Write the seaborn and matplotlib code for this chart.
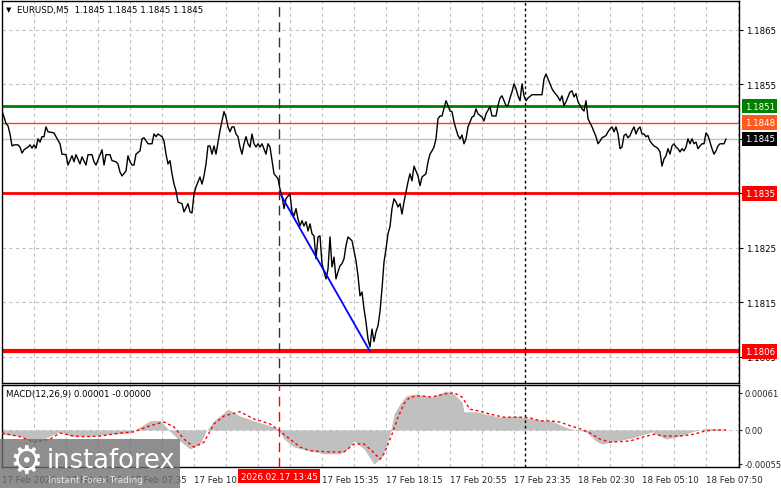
import matplotlib
matplotlib.use("Agg")
import matplotlib.pyplot as plt
import matplotlib.transforms as mtransforms
from matplotlib.patches import Rectangle
import numpy as np
import pandas as pd
import seaborn as sns

# ---------------- data ----------------
price_bars = [0, 1, 2, 3, 4, 5, 6, 8, 9, 10, 11, 13, 14, 15, 16, 17, 18, 19, 20, 21, 22, 23, 26, 27, 29, 30,
              32, 33, 35, 36, 37, 39, 40, 42, 43, 45, 46, 47, 50, 51, 52, 54, 55, 57, 58, 59, 60, 62, 63, 64,
              65, 66, 67, 69, 70, 71, 73, 75, 76, 77, 78, 80, 81, 82, 83, 84, 85, 86, 87, 88, 90, 91, 93, 94,
              95, 96, 97, 98, 99, 100, 101, 102, 103, 104, 105, 106, 107, 108, 109, 110, 111, 112, 113, 114,
              115, 116, 117, 118, 119, 120, 121, 122, 123, 124, 125, 126, 127, 128, 129, 130, 132, 133, 134,
              135, 136, 138, 139, 140, 141, 142, 143, 144, 145, 146, 147, 148, 149, 150, 151, 152, 153, 154,
              155, 156, 157, 158, 159, 160, 161, 162, 163, 164, 165, 166, 167, 168, 169, 170, 171, 172, 173,
              175, 176, 177, 178, 179, 180, 181, 182, 183, 184, 185, 186, 187, 188, 189, 190, 191, 192, 193,
              194, 195, 196, 197, 198, 199, 200, 201, 202, 203, 204, 205, 206, 207, 208, 209, 210, 212, 213,
              214, 215, 216, 217, 218, 219, 220, 222, 223, 224, 225, 226, 227, 228, 229, 230, 231, 232, 233,
              235, 236, 237, 238, 240, 241, 242, 244, 245, 247, 248, 249, 250, 251, 252, 253, 254, 255, 256,
              257, 258, 259, 260, 261, 262, 263, 265, 270, 271, 272, 273, 275, 276, 278, 279, 280, 281, 282,
              284, 285, 286, 287, 288, 290, 291, 292, 293, 295, 296, 297, 298, 299, 300, 302, 303, 304, 305,
              306, 307, 308, 309, 310, 311, 312, 313, 314, 315, 316, 317, 318, 319, 320, 321, 322, 323, 324,
              325, 326, 327, 328, 329, 330, 331, 332, 333, 334, 335, 336, 337, 338, 339, 340, 341, 342, 343,
              344, 345, 346, 347, 348, 349, 350, 351, 352, 353, 354, 355, 356, 357, 358, 359, 361, 362]
price_close = [1.18501, 1.18490, 1.18478, 1.18474, 1.18459, 1.18437, 1.18439, 1.18439, 1.18435, 1.18424,
               1.18430, 1.18435, 1.18439, 1.18433, 1.18439, 1.18433, 1.18450, 1.18444, 1.18454, 1.18454,
               1.18472, 1.18463, 1.18461, 1.18454, 1.18441, 1.18422, 1.18421, 1.18402, 1.18419, 1.18408,
               1.18421, 1.18404, 1.18417, 1.18402, 1.18421, 1.18421, 1.18408, 1.18402, 1.18430, 1.18402,
               1.18421, 1.18421, 1.18410, 1.18408, 1.18404, 1.18389, 1.18382, 1.18391, 1.18419, 1.18408,
               1.18402, 1.18402, 1.18422, 1.18428, 1.18450, 1.18452, 1.18441, 1.18441, 1.18459, 1.18454,
               1.18459, 1.18454, 1.18446, 1.18422, 1.18404, 1.18410, 1.18386, 1.18367, 1.18355, 1.18334,
               1.18331, 1.18316, 1.18331, 1.18316, 1.18314, 1.18349, 1.18362, 1.18371, 1.18380, 1.18367,
               1.18382, 1.18404, 1.18437, 1.18437, 1.18422, 1.18437, 1.18422, 1.18444, 1.18465, 1.18483,
               1.18500, 1.18490, 1.18472, 1.18463, 1.18472, 1.18472, 1.18459, 1.18454, 1.18435, 1.18422,
               1.18441, 1.18454, 1.18441, 1.18435, 1.18459, 1.18441, 1.18435, 1.18441, 1.18435, 1.18441,
               1.18422, 1.18441, 1.18435, 1.18410, 1.18386, 1.18377, 1.18358, 1.18345, 1.18322, 1.18340,
               1.18345, 1.18349, 1.18316, 1.18309, 1.18322, 1.18303, 1.18290, 1.18300, 1.18290, 1.18298,
               1.18281, 1.18294, 1.18276, 1.18272, 1.18230, 1.18270, 1.18272, 1.18221, 1.18206, 1.18193,
               1.18211, 1.18270, 1.18215, 1.18233, 1.18193, 1.18206, 1.18217, 1.18221, 1.18230, 1.18254,
               1.18270, 1.18263, 1.18244, 1.18226, 1.18199, 1.18162, 1.18169, 1.18138, 1.18114, 1.18083,
               1.18068, 1.18101, 1.18078, 1.18096, 1.18107, 1.18133, 1.18175, 1.18224, 1.18248, 1.18276,
               1.18289, 1.18322, 1.18340, 1.18334, 1.18325, 1.18331, 1.18312, 1.18334, 1.18353, 1.18371,
               1.18386, 1.18373, 1.18400, 1.18391, 1.18382, 1.18364, 1.18380, 1.18386, 1.18408, 1.18422,
               1.18428, 1.18435, 1.18450, 1.18487, 1.18492, 1.18492, 1.18520, 1.18511, 1.18501, 1.18500,
               1.18481, 1.18468, 1.18456, 1.18450, 1.18457, 1.18441, 1.18450, 1.18472, 1.18490, 1.18492,
               1.18505, 1.18496, 1.18490, 1.18483, 1.18496, 1.18509, 1.18492, 1.18492, 1.18511, 1.18525,
               1.18529, 1.18520, 1.18511, 1.18511, 1.18525, 1.18536, 1.18551, 1.18542, 1.18529, 1.18520,
               1.18551, 1.18529, 1.18520, 1.18525, 1.18531, 1.18531, 1.18560, 1.18569, 1.18560, 1.18542,
               1.18536, 1.18527, 1.18520, 1.18529, 1.18511, 1.18518, 1.18536, 1.18538, 1.18527, 1.18533,
               1.18518, 1.18505, 1.18501, 1.18520, 1.18487, 1.18472, 1.18463, 1.18454, 1.18441, 1.18446,
               1.18452, 1.18456, 1.18463, 1.18468, 1.18472, 1.18463, 1.18472, 1.18459, 1.18432, 1.18435,
               1.18456, 1.18459, 1.18452, 1.18456, 1.18465, 1.18472, 1.18459, 1.18468, 1.18472, 1.18459,
               1.18459, 1.18454, 1.18456, 1.18446, 1.18441, 1.18437, 1.18435, 1.18432, 1.18426, 1.18400,
               1.18413, 1.18419, 1.18432, 1.18422, 1.18437, 1.18441, 1.18435, 1.18432, 1.18426, 1.18432,
               1.18428, 1.18435, 1.18450, 1.18441, 1.18450, 1.18441, 1.18444, 1.18432, 1.18437, 1.18441,
               1.18441, 1.18461, 1.18456, 1.18444, 1.18432, 1.18422, 1.18428, 1.18437, 1.18441, 1.18441,
               1.18450]

macd_bars = [0, 9, 16, 21, 24, 29, 34, 44, 54, 64, 69, 74, 79, 84, 89, 94, 99, 102, 106, 113, 119, 126,
             134, 138, 141, 146, 154, 161, 169, 173, 176, 181, 186, 190, 194, 196, 199, 202, 207, 215, 222,
             226, 230, 231, 237, 242, 249, 257, 262, 270, 275, 280, 284, 292, 297, 300, 304, 315, 325, 332,
             339, 345, 352, 355, 362]
macd_hist = [-0.00007, -0.00010, -0.00020, -0.00015, -0.00010, -0.00003, -0.00010, -0.00010, -0.00007,
             -0.00005, 0.00005, 0.00015, 0.00016, -0.00002, -0.00018, -0.00031, -0.00023, -0.00002, 0.00015,
             0.00034, 0.00023, 0.00015, 0.00007, 0.00002, -0.00015, -0.00028, -0.00034, -0.00039, -0.00039,
             -0.00031, -0.00018, -0.00031, -0.00056, -0.00044, -0.00007, 0.00026, 0.00043, 0.00056, 0.00059,
             0.00054, 0.00064, 0.00059, 0.00046, 0.00030, 0.00030, 0.00026, 0.00021, 0.00023, 0.00020,
             0.00016, 0.00015, 0.00007, 0.00002, -0.00003, -0.00018, -0.00023, -0.00020, -0.00013, -0.00003,
             -0.00015, -0.00010, -0.00003, 0.00003, 0.00002, 0.00001]

signal_bars = [0, 9, 16, 24, 29, 36, 41, 49, 59, 66, 74, 81, 86, 91, 96, 101, 106, 111, 119, 126, 134, 139,
               144, 149, 154, 164, 171, 176, 181, 185, 189, 191, 195, 198, 201, 204, 209, 215, 221, 226, 230,
               234, 239, 244, 251, 259, 264, 269, 274, 279, 284, 289, 294, 299, 304, 314, 321, 326, 331, 339,
               346, 351, 356, 362]
signal_vals = [-0.00005, -0.00011, -0.00020, -0.00015, -0.00005, -0.00010, -0.00011, -0.00010, -0.00005,
               -0.00003, 0.00007, 0.00013, 0.00005, -0.00015, -0.00028, -0.00020, 0.00010, 0.00023, 0.00030,
               0.00018, 0.00010, -0.00002, -0.00015, -0.00028, -0.00034, -0.00036, -0.00036, -0.00023,
               -0.00023, -0.00034, -0.00048, -0.00039, -0.00007, 0.00021, 0.00043, 0.00054, 0.00056, 0.00054,
               0.00059, 0.00061, 0.00054, 0.00034, 0.00031, 0.00026, 0.00021, 0.00021, 0.00020, 0.00015,
               0.00015, 0.00013, 0.00007, 0.00002, -0.00005, -0.00015, -0.00020, -0.00018, -0.00011, -0.00007,
               -0.00010, -0.00010, -0.00007, -0.00002, 0.00000, 0.00000]

trend_bars = [139, 184]
trend_prices = [1.1835, 1.1806]

level_prices = [1.1851, 1.1848, 1.1845, 1.1835, 1.1806]
level_labels = ["1.1851", "1.1848", "1.1845", "1.1835", "1.1806"]
price_ticks = [1.1805, 1.1815, 1.1825, 1.1835, 1.1845, 1.1855, 1.1865]
price_tick_labels = ["1.1805", "1.1815", "1.1825", "1.1835", "1.1845", "1.1855", "1.1865"]
macd_ticks = [0.00061, 0.0, -0.00055]
macd_tick_labels = ["0.00061", "0.00", "-0.00055"]

time_tick_bars = [0, 32, 64, 96, 128, 160, 192, 224, 256, 288, 320, 352]
time_tick_labels = ["17 Feb 2026", "17 Feb 04:55", "17 Feb 07:35", "17 Feb 10:15", "17 Feb 12:55",
                    "17 Feb 15:35", "17 Feb 18:15", "17 Feb 20:55", "17 Feb 23:35", "18 Feb 02:30",
                    "18 Feb 05:10", "18 Feb 07:50"]
marker_bar = 138.5
marker_label = "2026.02.17 13:45"
dotted_bar = 261.5

title_text = "EURUSD,M5  1.1845 1.1845 1.1845 1.1845"
macd_text = "MACD(12,26,9) 0.00001 -0.00000"

# ---------------- styling ----------------
sns.set_style("white")
plt.rcParams["font.family"] = ["DejaVu Sans"]

W, H = 781, 489
fig = plt.figure(figsize=(W / 100, H / 100), dpi=100)
fig.patch.set_facecolor("white")


def fx(px):
    return px / W


def fy(py):
    return 1 - py / H


ax = fig.add_axes([fx(2), fy(384), fx(739) - fx(2), fy(2) - fy(384)])
ax2 = fig.add_axes([fx(2), fy(468), fx(739) - fx(2), fy(386) - fy(468)])

XMAX = 368.5
GRID_KW = dict(color="#C0C0C0", linestyle=(0, (3, 3)), linewidth=0.8)
TFS = 6.2

# ---- main price panel ----
ax.set_xlim(0, XMAX)
ax.set_ylim(1.18002, 1.18703)
ax.set_xticks(np.arange(0, XMAX, 16))
ax.set_xticklabels([])
ax.tick_params(axis="x", length=0)
ax.yaxis.tick_right()
ax.set_yticks(price_ticks)
ax.set_yticklabels(price_tick_labels)
ax.tick_params(axis="y", labelsize=TFS, length=3, width=0.8, pad=2, colors="black", direction="out")
ax.grid(True, **GRID_KW)
ax.set_axisbelow(True)
for s in ax.spines.values():
    s.set_color("black")
    s.set_linewidth(1)

level_styles = [("#008000", 2.0), ("#FF4500", 1.0), ("#C0C0C0", 1.0), ("#FF0000", 2.0), ("#FF0000", 3.0)]
for p, (c, lw) in zip(level_prices, level_styles):
    ax.axhline(p, color=c, linewidth=lw, zorder=2)

ax.axvline(marker_bar, color="#333333", linestyle=(0, (7, 4)), linewidth=1, zorder=2)
ax.axvline(dotted_bar, color="black", linestyle=(0, (2, 2)), linewidth=1, zorder=2)

df_price = pd.DataFrame({"bar": price_bars, "close": price_close})
sns.lineplot(data=df_price, x="bar", y="close", ax=ax, color="black", linewidth=1,
             estimator=None, sort=False, zorder=4)
df_trend = pd.DataFrame({"bar": trend_bars, "price": trend_prices})
sns.lineplot(data=df_trend, x="bar", y="price", ax=ax, color="#0000FF", linewidth=1.3,
             estimator=None, sort=False, zorder=5)
ax.set_xlabel("")
ax.set_ylabel("")

# price label boxes on the right
label_bg = ["#008000", "#FF5A1E", "#000000", "#FF0000", "#FF0000"]
trans = mtransforms.blended_transform_factory(ax.transAxes, ax.transData)
for p, lab, bg in zip(level_prices, level_labels, label_bg):
    ax.text(1.0075, p, lab, transform=trans, ha="left", va="center", fontsize=TFS, color="white",
            bbox=dict(boxstyle="square,pad=0.32", fc=bg, ec="none"), clip_on=False, zorder=6)

# ---- MACD panel ----
ax2.set_xlim(0, XMAX)
ax2.set_ylim(-0.000607, 0.000738)
ax2.fill_between(macd_bars, 0, macd_hist, color="#C0C0C0", linewidth=0, zorder=2)
df_sig = pd.DataFrame({"bar": signal_bars, "sig": signal_vals})
sns.lineplot(data=df_sig, x="bar", y="sig", ax=ax2, color="#FF0000", linewidth=1,
             linestyle=(0, (2, 2)), estimator=None, sort=False, zorder=4)
ax2.axhline(0, **GRID_KW, zorder=1)
ax2.axvline(marker_bar, color="#FF0000", linestyle=(0, (7, 4)), linewidth=1, zorder=3)
ax2.axvline(dotted_bar, color="black", linestyle=(0, (2, 2)), linewidth=1, zorder=3)
ax2.set_xlabel("")
ax2.set_ylabel("")

ax2.set_xticks(time_tick_bars)
ax2.set_xticklabels(time_tick_labels, ha="left")
ax2.set_xticks(np.arange(0, XMAX, 16), minor=True)
ax2.tick_params(axis="x", which="major", labelsize=TFS, length=3, width=0.8, pad=3, direction="out")
ax2.tick_params(axis="x", which="minor", length=0)
ax2.grid(True, axis="x", which="both", **GRID_KW)
# the label under the highlighted time marker is fully hidden by it in the reference
for t, lab in zip(ax2.get_xticklabels(), time_tick_labels):
    if lab == "17 Feb 12:55":
        t.set_visible(False)
ax2.yaxis.tick_right()
ax2.set_yticks(macd_ticks)
ax2.set_yticklabels(macd_tick_labels)
ax2.tick_params(axis="y", labelsize=6.0, length=2.5, width=0.8, pad=1.5, direction="out")
ax2.set_axisbelow(True)
for s in ax2.spines.values():
    s.set_color("black")
    s.set_linewidth(1)

# highlighted time label
ax2.text(marker_bar, -0.11, marker_label,
         transform=mtransforms.blended_transform_factory(ax2.transData, ax2.transAxes),
         ha="center", va="center", fontsize=TFS, color="white",
         bbox=dict(boxstyle="square,pad=0.3", fc="#FF0000", ec="none"), clip_on=False, zorder=6)

# header texts
fig.text(fx(6), fy(10), "\u25BC", fontsize=5, color="black", va="center", ha="left")
fig.text(fx(17), fy(10), title_text, fontsize=TFS, color="black", va="center", ha="left")
fig.text(fx(6), fy(395), macd_text, fontsize=TFS, color="black", va="center", ha="left")

# watermark
fig.add_artist(Rectangle((0, 0), fx(180), fy(440), transform=fig.transFigure,
                         facecolor="#6e6e6e", edgecolor="none", alpha=0.78, zorder=20))
fig.text(fx(26), fy(463), "\u2699", fontsize=27, color="white", va="center", ha="center", zorder=21)
fig.text(fx(47), fy(461), "instaforex", fontsize=18.5, color="white", va="center", ha="left", zorder=21)
fig.text(fx(48), fy(481), "Instant Forex Trading", fontsize=6.5, color="#e8e8e8", va="center", ha="left",
         zorder=21)

fig.savefig("out.png", dpi=100)
